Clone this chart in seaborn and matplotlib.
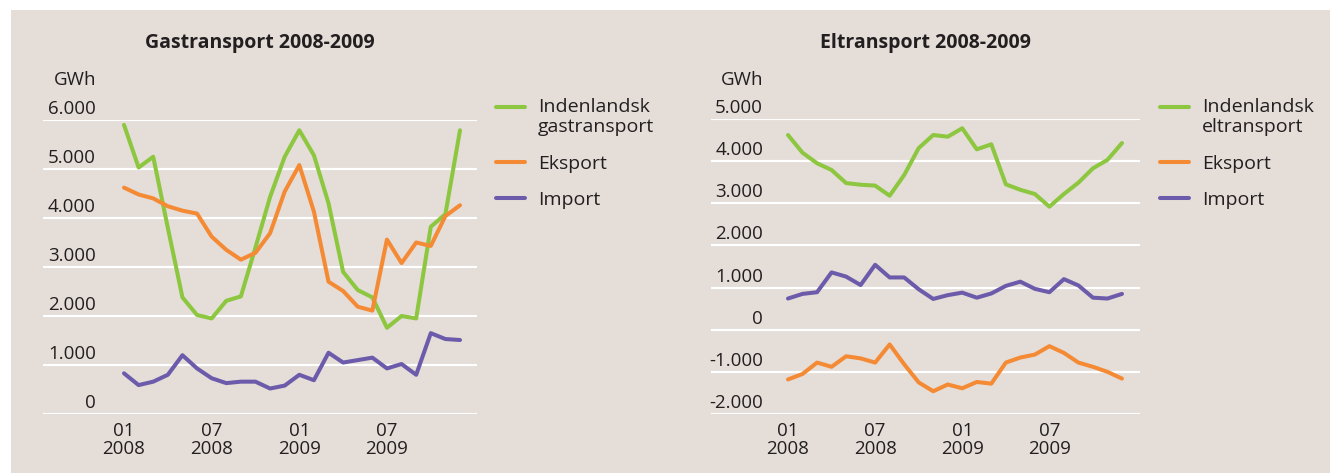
import pandas as pd
import numpy as np
import matplotlib
matplotlib.use("Agg")
import matplotlib.pyplot as plt
import matplotlib.transforms as mtransforms
from matplotlib.lines import Line2D
from matplotlib.patches import Rectangle
from matplotlib.legend_handler import HandlerLine2D
import seaborn as sns

# --- data (GWh per month, jan 2008 - dec 2009) ---
months = list(range(24))
xtick_pos = [0, 6, 12, 18]
xtick_labels = ["01\n2008", "07\n2008", "01\n2009", "07\n2009"]

gas_indenlandsk = [5900, 5030, 5250, 3800, 2380, 2020, 1950, 2310, 2400, 3400, 4430, 5250,
                   5790, 5280, 4300, 2900, 2530, 2380, 1760, 2000, 1950, 3820, 4080, 5790]
gas_eksport = [4620, 4480, 4400, 4240, 4150, 4090, 3620, 3350, 3150, 3290, 3690, 4540,
               5080, 4130, 2700, 2510, 2190, 2110, 3560, 3080, 3500, 3430, 4040, 4260]
gas_import = [830, 590, 660, 800, 1200, 930, 730, 630, 660, 660, 520, 580,
              800, 690, 1250, 1050, 1100, 1150, 930, 1020, 800, 1650, 1530, 1510]

el_indenlandsk = [4620, 4200, 3950, 3790, 3480, 3440, 3420, 3180, 3670, 4310, 4620, 4580,
                  4780, 4280, 4400, 3450, 3320, 3220, 2920, 3220, 3490, 3830, 4030, 4430]
el_eksport = [-1180, -1050, -780, -880, -630, -680, -780, -350, -820, -1250, -1460, -1300,
              -1390, -1240, -1280, -780, -660, -590, -390, -550, -780, -880, -1000, -1160]
el_import = [740, 850, 890, 1360, 1260, 1060, 1540, 1240, 1240, 960, 730, 820,
             880, 760, 860, 1040, 1140, 970, 890, 1200, 1050, 760, 740, 850]

series_names = ["Indenlandsk", "Eksport", "Import"]
colors = ["#8DC63F", "#F58A35", "#6C5BAA"]

gas_yticks = [0, 1000, 2000, 3000, 4000, 5000, 6000]
el_yticks = [-2000, -1000, 0, 1000, 2000, 3000, 4000, 5000]

BG = "#E4DDD8"
TXT = "#231F20"
W, H = 1330, 474

sns.set_style("white", {"axes.facecolor": BG, "figure.facecolor": "white"})
plt.rcParams["font.family"] = ["Open Sans", "DejaVu Sans"]


def fmt(v):
    s = "{:,}".format(abs(v)).replace(",", ".")
    return ("-" + s) if v < 0 else s


def long_frame(values):
    rows = []
    for name, vals in zip(series_names, values):
        for m, v in zip(months, vals):
            rows.append({"month": m, "GWh": v, "serie": name})
    return pd.DataFrame(rows)


class TopLine(HandlerLine2D):
    # legend line next to the first line of a two-line label
    def create_artists(self, legend, orig_handle, xdescent, ydescent, width,
                       height, fontsize, trans):
        arts = super().create_artists(legend, orig_handle, xdescent, ydescent,
                                      width, height, fontsize, trans)
        for a in arts:
            a.set_ydata(np.asarray(a.get_ydata()) + fontsize * 0.55)
        return arts


fig = plt.figure(figsize=(W / 100, H / 100), dpi=100)
fig.patches.append(Rectangle((11 / W, 1 / H), (W - 11) / W, (H - 11) / H,
                             transform=fig.transFigure, facecolor=BG,
                             edgecolor="none", zorder=-10))


def panel(left_px, right_px, top_px, bottom_px, x0_px, xN_px, df, yticks,
          title, legend_first, legend_x_px, label_right_px):
    ax = fig.add_axes([left_px / W, (H - bottom_px) / H,
                       (right_px - left_px) / W, (bottom_px - top_px) / H])
    ax.set_facecolor(BG)
    ax.patch.set_alpha(0)
    ppm = (xN_px - x0_px) / 23.0
    ax.set_xlim(-(x0_px - left_px) / ppm, 23 + (right_px - xN_px) / ppm)
    ax.set_ylim(yticks[0], yticks[-1])

    for y in yticks:
        ax.axhline(y, color="white", lw=1.6, zorder=1)

    sns.lineplot(data=df, x="month", y="GWh", hue="serie", palette=colors,
                 hue_order=series_names, linewidth=2.9, legend=False, ax=ax,
                 zorder=3)

    for s in ax.spines.values():
        s.set_visible(False)
    ax.set_yticks([])
    ax.set_xticks(xtick_pos)
    ax.set_xticklabels(xtick_labels, fontsize=13.5, color=TXT, linespacing=1.0)
    ax.tick_params(axis="x", length=0, pad=6)
    ax.set_xlabel("")
    ax.set_ylabel("")

    trans = mtransforms.blended_transform_factory(fig.transFigure, ax.transData)
    trans = mtransforms.offset_copy(trans, fig=fig, x=0, y=6, units="dots")
    for y in yticks:
        ax.text(label_right_px / W, y, fmt(y), transform=trans, ha="right",
                va="baseline", fontsize=13.5, color=TXT)

    fig.text(label_right_px / W, (H - 80) / H, "GWh", ha="right", va="center",
             fontsize=13.5, color=TXT)
    fig.text((left_px + right_px) / 2 / W, (H - 43) / H, title, ha="center",
             va="center", fontsize=14, fontweight="bold", color=TXT)

    handles = [Line2D([0], [0], color=c, lw=2.9) for c in colors]
    labels = [legend_first, "Eksport", "Import"]
    fig.legend(handles, labels, loc="upper left",
               bbox_to_anchor=(legend_x_px / W, (H - 98) / H),
               bbox_transform=fig.transFigure, frameon=False, fontsize=14,
               handlelength=1.5, handletextpad=0.65, labelspacing=0.95,
               borderaxespad=0, borderpad=0,
               handler_map={handles[0]: TopLine()})
    for t in fig.legends[-1].get_texts():
        t.set_color(TXT)
        t.set_linespacing(1.15)
    return ax


panel(43, 477, 120, 414, 124, 460,
      long_frame([gas_indenlandsk, gas_eksport, gas_import]), gas_yticks,
      "Gastransport 2008-2009", "Indenlandsk\ngastransport", 496, 96)
panel(711, 1140, 119, 414, 788, 1122,
      long_frame([el_indenlandsk, el_eksport, el_import]), el_yticks,
      "Eltransport 2008-2009", "Indenlandsk\neltransport", 1160, 763)

fig.savefig("out.png", dpi=100, facecolor="white")
